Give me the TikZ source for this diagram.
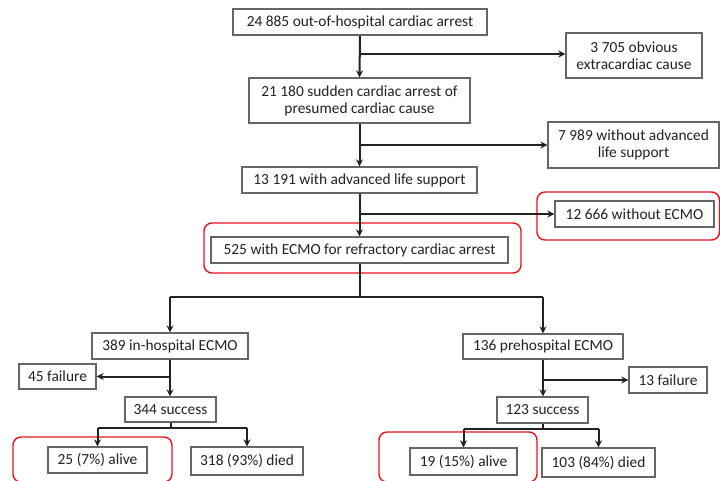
\documentclass[tikz,border=0pt]{standalone}
\usepackage{fontspec}
\setmainfont{Carlito}
\usetikzlibrary{arrows.meta}
\definecolor{txt}{HTML}{222222}
\definecolor{boxline}{HTML}{666666}
\definecolor{conn}{HTML}{222222}
\definecolor{hl}{HTML}{E8141B}
\tikzset{
  fbox/.style={draw=boxline, line width=1.3pt, inner sep=0pt, align=center,
    text=txt, font=\fontsize{15.4}{16.8}\selectfont},
  arr/.style={draw=conn, line width=2pt, -{Stealth[length=7pt,width=7pt]}},
  ln/.style={draw=conn, line width=2pt},
  hilite/.style={draw=hl, line width=1.4pt, rounded corners=8pt}
}
\begin{document}
\begin{tikzpicture}[x=1pt,y=-1pt]
\useasboundingbox (0,0) rectangle (720,480);
\fill[white] (0,0) rectangle (720,480);
% boxes
\node[fbox, minimum width=254pt, minimum height=26pt] (b1) at (360,22) {24 885 out-of-hospital cardiac arrest};
\node[fbox, minimum width=221pt, minimum height=45pt] (b2) at (359.5,100.5) {21 180 sudden cardiac arrest of\\presumed cardiac cause};
\node[fbox, minimum width=136pt, minimum height=45pt] (b3) at (634,55.5) {3 705 obvious\\extracardiac cause};
\node[fbox, minimum width=171pt, minimum height=46pt] (b4) at (633.5,145) {7 989 without advanced\\life support};
\node[fbox, minimum width=235pt, minimum height=26pt] (b5) at (359.5,180) {13 191 with advanced life support};
\node[fbox, minimum width=159pt, minimum height=26pt] (b6) at (634.5,214) {12 666 without ECMO};
\node[fbox, minimum width=297pt, minimum height=26pt] (b7) at (359.5,250) {525 with ECMO for refractory cardiac arrest};
\node[fbox, minimum width=156pt, minimum height=26pt] (b8) at (170,346) {389 in-hospital ECMO};
\node[fbox, minimum width=77pt, minimum height=25pt] (b9) at (57.5,376.5) {45 failure};
\node[fbox, minimum width=91pt, minimum height=25pt] (b10) at (170.5,409.5) {344 success};
\node[fbox, minimum width=99pt, minimum height=26pt] (b11) at (97.5,460) {25 (7\%) alive};
\node[fbox, minimum width=112pt, minimum height=28pt] (b12) at (247,461) {318 (93\%) died};
\node[fbox, minimum width=160pt, minimum height=25pt] (b13) at (543,346.5) {136 prehospital ECMO};
\node[fbox, minimum width=78pt, minimum height=26pt] (b14) at (668,380) {13 failure};
\node[fbox, minimum width=91pt, minimum height=26pt] (b15) at (542.5,410) {123 success};
\node[fbox, minimum width=107pt, minimum height=27pt] (b16) at (463.5,461.5) {19 (15\%) alive};
\node[fbox, minimum width=113pt, minimum height=29pt] (b17) at (598.5,462.5) {103 (84\%) died};
% highlight frames
\draw[hilite] (537,192) rectangle (719.5,240);
\draw[hilite] (204,223) rectangle (521,273);
\draw[hilite] (13,437) rectangle (172,482);
\draw[hilite] (379,432) rectangle (537,482);
% connectors
\draw[arr] (b1.south) -- (b2.north);
\draw[arr] (b1.south |- 0,54) -- (b3.west |- 0,54);
\draw[arr] (b2.south) -- (b5.north);
\draw[arr] (b2.south |- b4.west) -- (b4.west);
\draw[arr] (b5.south) -- (b7.north);
\draw[arr] (b5.south |- b6.west) -- (b6.west);
\coordinate (s1) at (359.5,297);
\draw[ln] (b7.south) -- (s1);
\draw[ln] (b8.north |- s1) -- (b13.north |- s1);
\draw[arr] (b8.north |- s1) -- (b8.north);
\draw[arr] (b13.north |- s1) -- (b13.north);
\draw[arr] (b8.south) -- (b8.south |- b10.north);
\draw[arr] (b8.south |- b9.east) -- (b9.east);
\draw[arr] (b13.south) -- (b13.south |- b15.north);
\draw[arr] (b13.south |- b14.west) -- (b14.west);
\coordinate (s2) at (170.5,428);
\draw[ln] (b10.south) -- (s2);
\draw[ln] (b11.north |- s2) -- (b12.north |- s2);
\draw[arr] (b11.north |- s2) -- (b11.north);
\draw[arr] (b12.north |- s2) -- (b12.north);
\coordinate (s3) at (542.5,429);
\draw[ln] (b15.south) -- (s3);
\draw[ln] (b16.north |- s3) -- (b17.north |- s3);
\draw[arr] (b16.north |- s3) -- (b16.north);
\draw[arr] (b17.north |- s3) -- (b17.north);
\end{tikzpicture}
\end{document}
